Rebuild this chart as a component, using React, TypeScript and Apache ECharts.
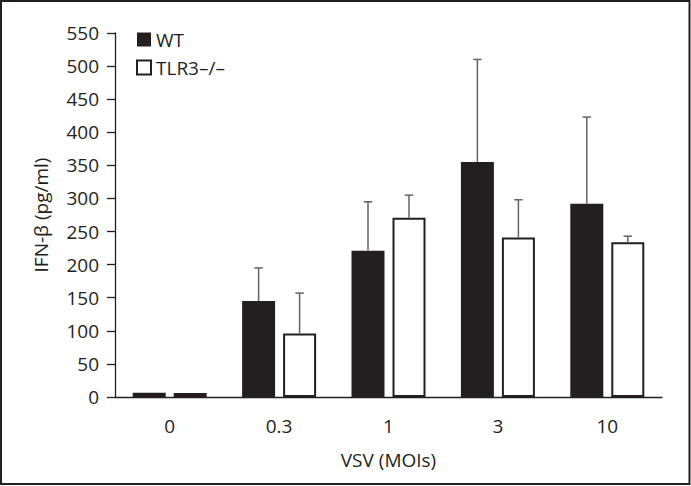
import React, { useEffect, useRef } from "react";
import * as echarts from "echarts";

const categories = ["0", "0.3", "1", "3", "10"];
const wtValues = [6.5, 145, 221, 355, 292];
const tlrValues = [6, 96, 271, 241, 234];
const wtErrTop = [6.5, 195, 295, 510, 423];
const tlrErrTop = [6, 157, 305, 298, 243];
const yTicks = { min: 0, max: 550, interval: 50 };

const INK = "#231f20";
const ERR = "#626366";
const FONT = "'Open Sans', 'Noto Sans', sans-serif";
const FS = 19;
const BAR_W = 33;
const BAR_GAP_PX = 8;

function errSeries(name: string, tops: number[], vals: number[], sign: number) {
  const offset = sign * (BAR_W + BAR_GAP_PX) / 2;
  return {
    name,
    type: "custom",
    silent: true,
    z: 3,
    data: categories.map((_, i) => [i, tops[i], vals[i]]),
    renderItem: (params: any, api: any) => {
      const xi = api.value(0);
      const top = api.value(1);
      const base = api.value(2);
      if (top <= base) return null;
      const p1 = api.coord([xi, top]);
      const p0 = api.coord([xi, base]);
      const x = p1[0] + offset;
      const st = { stroke: ERR, lineWidth: 1.5 };
      return {
        type: "group",
        children: [
          { type: "line", shape: { x1: x, y1: p0[1], x2: x, y2: p1[1] }, style: st },
          { type: "line", shape: { x1: x - 4.2, y1: p1[1], x2: x + 4.2, y2: p1[1] }, style: st },
        ],
      };
    },
  };
}

export default function App() {
  const ref = useRef<HTMLDivElement>(null);
  useEffect(() => {
    if (!ref.current) return;
    const chart = echarts.init(ref.current, undefined, { renderer: "svg" });
    chart.setOption({
      animation: false,
      backgroundColor: "#ffffff",
      textStyle: { fontFamily: FONT },
      grid: { left: 115, right: 29, top: 33, bottom: 89 },
      legend: {
        data: ["WT", "TLR3\u2013/\u2013"],
        orient: "vertical",
        left: 131,
        top: 25,
        icon: "rect",
        itemWidth: 14,
        itemHeight: 14,
        itemGap: 9,
        selectedMode: false,
        textStyle: { fontSize: FS, color: INK, fontFamily: FONT },
      },
      xAxis: {
        type: "category",
        data: categories,
        name: "VSV (MOIs)",
        nameLocation: "middle",
        nameGap: 53,
        nameTextStyle: { fontSize: FS, color: INK, fontFamily: FONT },
        axisLine: { lineStyle: { color: INK, width: 1.3 } },
        axisTick: { alignWithLabel: true, length: 9, lineStyle: { color: INK, width: 1.3 } },
        axisLabel: { fontSize: FS, color: INK, margin: 19, fontFamily: FONT },
      },
      yAxis: {
        type: "value",
        min: yTicks.min,
        max: yTicks.max,
        interval: yTicks.interval,
        name: "IFN-\u03b2 (pg/ml)",
        nameLocation: "middle",
        nameGap: 65,
        nameTextStyle: { fontSize: FS, color: INK, fontFamily: FONT },
        splitLine: { show: false },
        axisLine: { show: true, lineStyle: { color: INK, width: 1.3 } },
        axisTick: { show: true, length: 8, lineStyle: { color: INK, width: 1.3 } },
        axisLabel: { fontSize: FS, color: INK, margin: 16, fontFamily: FONT },
      },
      series: [
        {
          name: "WT",
          type: "bar",
          data: wtValues,
          barWidth: BAR_W,
          barGap: `${(BAR_GAP_PX / BAR_W) * 100}%`,
          itemStyle: { color: INK },
        },
        {
          name: "TLR3\u2013/\u2013",
          type: "bar",
          data: tlrValues,
          barWidth: BAR_W,
          itemStyle: { color: "#ffffff", borderColor: INK, borderWidth: 2 },
        },
        errSeries("errWT", wtErrTop, wtValues, -1),
        errSeries("errTLR", tlrErrTop, tlrValues, 1),
      ],
      graphic: [
        {
          type: "rect",
          shape: { x: 1, y: 1, width: 688.5, height: 483 },
          style: { fill: "none", stroke: INK, lineWidth: 2 },
          silent: true,
          z: 100,
        },
      ],
    });
    return () => chart.dispose();
  }, []);
  return (
    <div
      ref={ref}
      style={{ position: "absolute", left: 0, top: 0, width: 691, height: 486 }}
    />
  );
}
